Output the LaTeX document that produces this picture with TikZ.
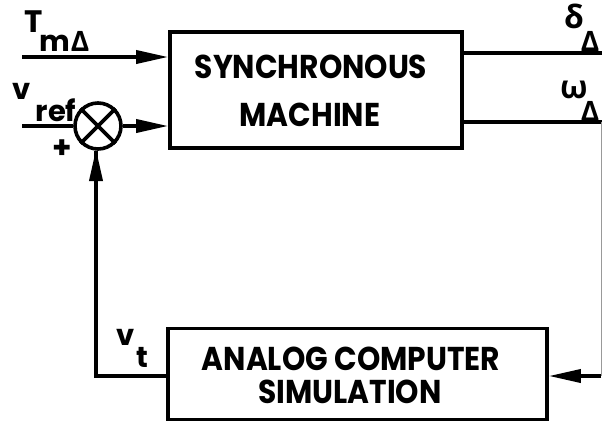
\documentclass[tikz,border=0pt]{standalone}
\usepackage{fontspec}
\setmainfont{Poppins}
\newfontfamily\grk{Open Sans}
\usetikzlibrary{arrows.meta}
\begin{document}
\begin{tikzpicture}[x=1pt,y=-1pt,
  wire/.style={line width=3.6pt},
  arr/.style={wire,-{Triangle[length=32pt,width=13pt]}},
  blocktxt/.style={font=\fontsize{33}{34}\selectfont\bfseries,anchor=base,inner sep=0pt},
  lbl/.style={font=\fontsize{31}{32}\selectfont\bfseries,anchor=base,inner sep=0pt},
  sub/.style={font=\fontsize{29}{30}\selectfont\bfseries,anchor=base,inner sep=0pt},
  glbl/.style={font=\grk\fontsize{32}{33}\selectfont\bfseries,anchor=base,inner sep=0pt},
  gsub/.style={font=\grk\fontsize{28}{29}\selectfont\bfseries,anchor=base,inner sep=0pt}]
\useasboundingbox (0,0) rectangle (602,424);
% blocks
\node[draw,line width=3.6pt,minimum width=292pt,minimum height=116pt,inner sep=0pt] (sm) at (316,90) {};
\node[draw,line width=3.6pt,minimum width=379pt,minimum height=91pt,inner sep=0pt] (acs) at (357.5,374) {};
\node[blocktxt,xscale=0.9] (t1) at (311,78) {SYNCHRONOUS};
\node[blocktxt,xscale=0.9] (t2) at (310,126) {MACHINE};
\node[blocktxt,xscale=0.9] (t3) at (351,370) {ANALOG COMPUTER};
\node[blocktxt,xscale=0.9] (t4) at (350,403) {SIMULATION};
% summing junction
\node[draw,circle,line width=3.6pt,minimum size=46pt,inner sep=0pt] (sum) at (98,126) {};
\draw[line width=3.6pt] (sum.north west) -- (sum.south east) (sum.north east) -- (sum.south west);
% coordinates
\coordinate (tin) at (22,57);
\coordinate (vin) at (22,126);
\coordinate (dout) at (602,53);
\coordinate (wout) at (602,122);
\coordinate (fr) at (601,376);
\coordinate (fl) at (96,376);
% connectors
\draw[arr] (tin) -- (tin -| sm.west);
\draw[wire] (vin) -- (sum.west);
\draw[arr] (sum.east) -- (sum.east -| sm.west);
\draw[wire] (sm.east |- dout) -- (dout);
\draw[wire] (sm.east |- wout) -- (wout);
\draw[line width=1pt,black!40] (wout) ++(-1,0) -- (fr);
\draw[arr] (fr) -- (fr -| acs.east);
\draw[wire] (fl -| acs.west) -- (fl) -- (fl |- sum.south) ;
\draw[arr] (fl) -- (96,149);
% labels
\node[lbl] (T) at (34,32) {T};
\node[sub] (Tm) at (55,51) {m};
\node[gsub] (Td) at (80,51) {Δ};
\node[glbl] (d) at (574,28) {δ};
\node[gsub] (dd) at (590,51) {Δ};
\node[glbl] (w) at (574,98) {ω};
\node[gsub] (wd) at (590,121) {Δ};
\node[sub] (v) at (22,99) {v};
\node[sub] (ref) at (56,121) {ref};
\node[lbl] (plus) at (62,158) {+};
\node[sub] (vt) at (126,345) {v};
\node[sub] (tt) at (142,367) {t};
\end{tikzpicture}
\end{document}
